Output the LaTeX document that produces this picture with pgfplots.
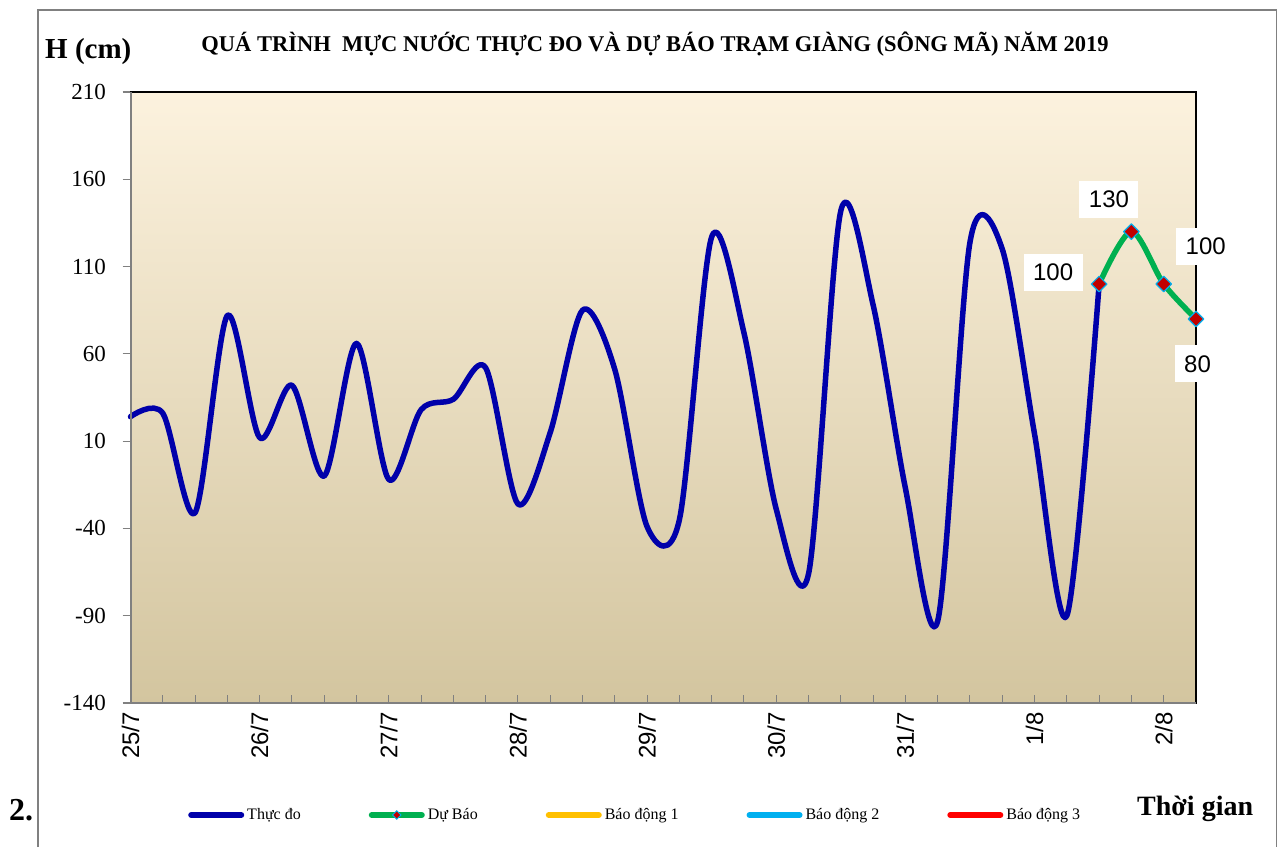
\documentclass[border=0pt]{standalone}
\usepackage{fontspec}
\setmainfont{Liberation Serif}
\newfontfamily\arial{Liberation Sans}
\usepackage{pgfplots}
\pgfplotsset{compat=1.18}
\usepackage{pgfplotstable}

\definecolor{obs}{RGB}{0,0,170}
\definecolor{fc}{RGB}{0,176,80}
\definecolor{mk}{RGB}{192,0,0}
\definecolor{mkb}{RGB}{0,176,240}
\definecolor{bd1}{RGB}{255,192,0}
\definecolor{bd2}{RGB}{0,176,240}
\definecolor{bd3}{RGB}{255,0,0}
\definecolor{bgtop}{RGB}{252,242,222}
\definecolor{bgmid}{RGB}{243,235,215}
\definecolor{bgbot}{RGB}{211,197,159}
\definecolor{framec}{RGB}{128,128,128}

\pgfplotstableread{
x y
0 24
1 26
2 -31
3 82
4 12
5 42
6 -10
7 66
8 -12
9 28
10 34
11 52
12 -26
13 15
14 85
15 51
16 -39
17 -35
18 127
19 72
20 -29
21 -66
22 142
23 88
24 -17
25 -93
26 124
27 120
28 14
29 -90
30 100
}\obsdata

\pgfplotstableread{
x y dx dy
30 100 -46 12
31 130 -22.5 32
32 100 42 38
33 80 1.5 -45
}\fcdata

\begin{document}
\begin{tikzpicture}
\useasboundingbox (0pt,0pt) rectangle (1282pt,847pt);
\fill[white] (0pt,0pt) rectangle (1282pt,847pt);
\draw[framec, line width=1.5pt] (38pt,0pt) -- (38pt,837pt) -- (1276.5pt,837pt) -- (1276.5pt,0pt);
\begin{axis}[
  at={(130.5pt,144pt)}, anchor=south west,
  scale only axis, width=1065.5pt, height=611pt,
  xmin=0, xmax=33, ymin=-140, ymax=210,
  clip=false,
  /pgf/number format/assume math mode=true,
  axis background/.style={shade, top color=bgtop, middle color=bgmid, bottom color=bgbot},
  axis line style={black, line width=1.2pt},
  xtick={0,4,...,32},
  xticklabels={25/7,26/7,27/7,28/7,29/7,30/7,31/7,1/8,2/8},
  minor xtick={0,...,33},
  ytick={-140,-90,...,210},
  yticklabels={-140,-90,-40,10,60,110,160,210},
  xtick pos=bottom, ytick pos=left,
  tick align=inside,
  major tick length=8pt, minor tick length=8pt,
  major x tick style={draw=framec, line width=1pt},
  minor x tick style={draw=framec, line width=1pt},
  ytick style={draw=framec, line width=1.2pt, xshift=-8pt},
  yticklabel style={font=\fontsize{23}{23}\selectfont, anchor=east, inner sep=0pt, xshift=-24.5pt},
  xticklabel style={font=\arial\fontsize{24}{24}\selectfont, yshift=-9pt, rotate=90, anchor=east, inner sep=0pt},
  legend columns=5,
  legend style={at={(axis description cs:0.0540,-0.1833)}, anchor=west, draw=none, fill=none,
    inner sep=0pt, font=\fontsize{16}{16}\selectfont,
    nodes={inner sep=0pt},
    /tikz/every odd column/.append style={column sep=3pt},
    /tikz/every even column/.append style={column sep=68pt}},
  legend image code/.code={\draw[mark repeat=2,mark phase=2,#1] plot coordinates {(0pt,0pt) (25pt,0pt) (50pt,0pt)};},
  after end axis/.code={
    \draw[framec, line width=2pt] (rel axis cs:0,1) -- (rel axis cs:0,0) -- (rel axis cs:1,0);
  },
]
\addplot[obs, line width=5.5pt, smooth, line join=round, line cap=round, forget plot] table[x=x,y=y] {\obsdata};
\addplot[fc, line width=5.5pt, smooth, line join=round, line cap=round, forget plot,
  mark=square*, mark size=5.5pt, mark options={rotate=45, fill=mk, draw=mkb, line width=1.2pt, solid},
  visualization depends on={\thisrow{dx} \as \dx},
  visualization depends on={\thisrow{dy} \as \dy},
  point meta=y,
  nodes near coords={\pgfmathprintnumber{\pgfplotspointmeta}},
  every node near coord/.append style={xshift=\dx*1pt, yshift=\dy*1pt, anchor=center, fill=white,
    inner xsep=9.5pt, inner ysep=10pt, font=\arial\fontsize{24}{24}\selectfont, text=black}
] table[x=x,y=y] {\fcdata};
\addlegendimage{obs, line width=6pt, line cap=round}
\addlegendentry{Thực đo}
\addlegendimage{fc, line width=6pt, line cap=round, mark=square*, mark size=3pt, mark options={rotate=45, fill=mk, draw=mkb, line width=0.8pt}}
\addlegendentry{Dự Báo}
\addlegendimage{bd1, line width=6pt, line cap=round}
\addlegendentry{Báo động 1}
\addlegendimage{bd2, line width=6pt, line cap=round}
\addlegendentry{Báo động 2}
\addlegendimage{bd3, line width=6pt, line cap=round}
\addlegendentry{Báo động 3}
\end{axis}
\node[font=\bfseries\fontsize{22.5}{22.5}\selectfont, anchor=base, inner sep=0pt] at (655pt,795pt) {QUÁ TRÌNH~ MỰC NƯỚC THỰC ĐO VÀ DỰ BÁO TRẠM GIÀNG (SÔNG MÃ) NĂM 2019};
\node[font=\bfseries\fontsize{29}{29}\selectfont, anchor=base west, inner sep=0pt] at (45pt,788pt) {H (cm)};
\node[font=\bfseries\fontsize{28}{28}\selectfont, anchor=base west, inner sep=0pt] at (1137pt,32pt) {Thời gian};
\node[font=\bfseries\fontsize{32}{32}\selectfont, anchor=base west, inner sep=0pt] at (9pt,27pt) {2.};
\end{tikzpicture}
\end{document}
